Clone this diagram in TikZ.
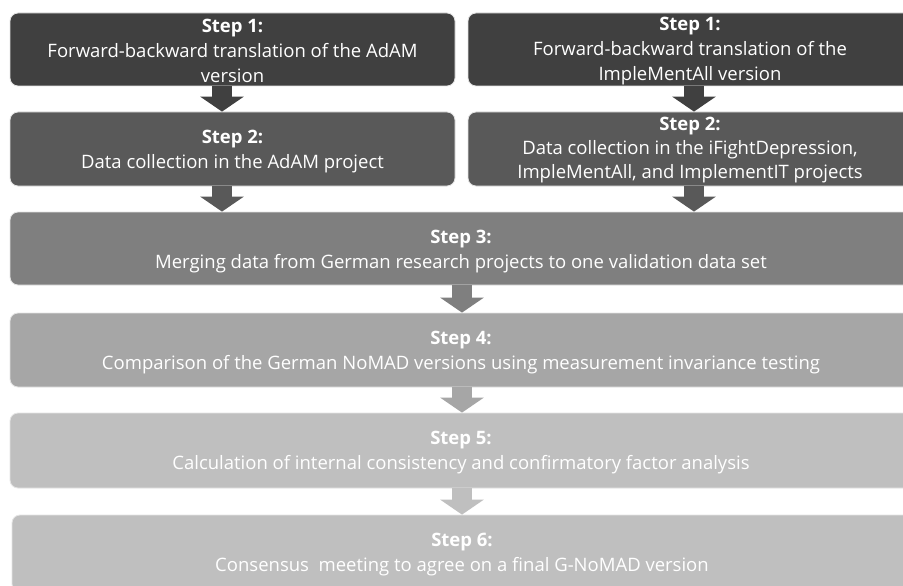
\documentclass[tikz,border=0pt]{standalone}
\usepackage{fontspec}
\setmainfont{Open Sans}
\usetikzlibrary{arrows.meta}
\definecolor{cA}{HTML}{404040}
\definecolor{cB}{HTML}{595959}
\definecolor{cC}{HTML}{7F7F7F}
\definecolor{cD}{HTML}{A6A6A6}
\definecolor{cE}{HTML}{BFBFBF}
\definecolor{edge}{HTML}{E4E4E4}
\tikzset{
  stepbox/.style={rounded corners=8pt, draw=edge, line width=0.8pt, inner sep=0pt},
  steptext/.style={text=white, align=center, inner sep=0pt, font=\fontsize{18.5}{25}\selectfont},
  arr/.style={line width=20pt, -{Triangle[width=43pt,length=15pt]}},
}
\begin{document}
\begin{tikzpicture}[x=1pt,y=-1pt]
\fill[white] (0,0) rectangle (903,586);
\clip (0,0) rectangle (903,586);
\useasboundingbox (0,0) rectangle (903,586);
% boxes
\node[stepbox, fill=cA, minimum width=445pt, minimum height=73pt] (b1l) at (232.5,49.5) {};
\node[steptext] (t1l) at (232.5,51) {\textbf{Step 1:}\\Forward-backward translation of the AdAM\\version};
\node[stepbox, fill=cA, minimum width=444pt, minimum height=73pt] (b1r) at (690,49.5) {};
\node[steptext] (t1r) at (690,51) {\textbf{Step 1:}\\Forward-backward translation of the\\ImpleMentAll version};
\node[stepbox, fill=cB, minimum width=445pt, minimum height=74pt] (b2l) at (232.5,149) {};
\node[steptext] (t2l) at (232.5,151.5) {\textbf{Step 2:}\\Data collection in the AdAM project};
\node[stepbox, fill=cB, minimum width=444pt, minimum height=74pt] (b2r) at (690,149) {};
\node[steptext, font=\fontsize{18.5}{24}\selectfont] (t2r) at (690,150.5) {\textbf{Step 2:}\\Data collection in the iFightDepression,\\ImpleMentAll, and ImplementIT projects};
\node[stepbox, fill=cC, minimum width=902pt, minimum height=73pt] (b3) at (461,248.5) {};
\node[steptext] (t3) at (461,251.5) {\textbf{Step 3:}\\Merging data from German research projects to one validation data set};
\node[stepbox, fill=cD, minimum width=902pt, minimum height=74pt] (b4) at (461,350) {};
\node[steptext] (t4) at (461,352.5) {\textbf{Step 4:}\\Comparison of the German NoMAD versions using measurement invariance testing};
\node[stepbox, fill=cE, minimum width=902pt, minimum height=75pt] (b5) at (461,450.5) {};
\node[steptext] (t5) at (461,453) {\textbf{Step 5:}\\Calculation of internal consistency and confirmatory factor analysis};
\node[stepbox, fill=cE, minimum width=900pt, minimum height=77pt] (b6) at (462,553.5) {};
\node[steptext] (t6) at (462,555) {\textbf{Step 6:}\\Consensus\ \ meeting to agree on a final G-NoMAD version};
% arrow columns
\coordinate (axl) at (222,0);
\coordinate (axr) at (694,0);
\coordinate (axm) at (462,0);
\draw[arr, cA] (b1l.south -| axl) -- (b2l.north -| axl);
\draw[arr, cA] (b1r.south -| axr) -- (b2r.north -| axr);
\draw[arr, cB] (b2l.south -| axl) -- (b3.north -| axl);
\draw[arr, cB] (b2r.south -| axr) -- (b3.north -| axr);
\draw[arr, cC] (b3.south -| axm) -- (b4.north -| axm);
\draw[arr, cD] (b4.south -| axm) -- (b5.north -| axm);
\draw[arr, cE] (b5.south -| axm) -- (b6.north -| axm);
\end{tikzpicture}
\end{document}
